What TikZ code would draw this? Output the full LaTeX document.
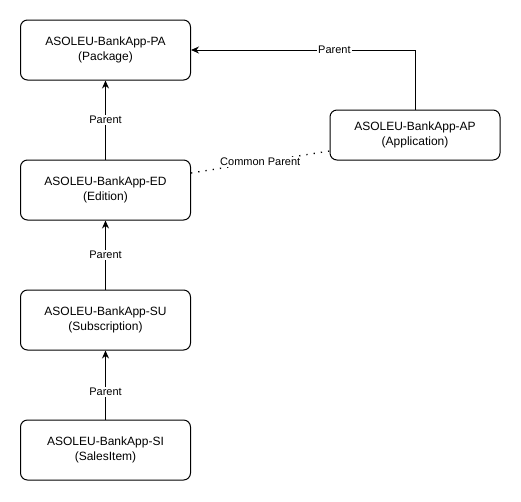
\documentclass[tikz,border=0pt]{standalone}
\usepackage{fontspec}
\setmainfont{Liberation Sans}
\usetikzlibrary{arrows.meta}

\begin{document}
\begin{tikzpicture}[x=1pt, y=-1pt,
    box/.style={draw, line width=1pt, rounded corners=7pt, minimum width=170pt, minimum height=60pt, align=center, font=\fontsize{12}{14.5}\selectfont, inner sep=0pt},
    arr/.style={-{Stealth[length=8pt,width=7pt]}, line width=1pt},
    lbl/.style={fill=white, inner sep=1pt, font=\fontsize{11}{13}\selectfont}]
            \useasboundingbox (0,0) rectangle (521,501);

            \node[box] (PA) at (105.5,50) {ASOLEU-BankApp-PA\\(Package)};
            \node[box] (ED) at (105.5,190) {ASOLEU-BankApp-ED\\(Edition)};
            \node[box] (SU) at (105.5,320) {ASOLEU-BankApp-SU\\(Subscription)};
            \node[box] (SI) at (105.5,450) {ASOLEU-BankApp-SI\\(SalesItem)};
            \node[box, minimum height=50pt] (AP) at (415,135) {ASOLEU-BankApp-AP\\(Application)};

            \draw[arr] (ED)--(PA) node[midway, lbl] {Parent};
            \draw[arr] (SU)--(ED) node[midway, lbl] {Parent};
            \draw[arr] (SI)--(SU) node[pos=0.4, lbl] {Parent};
            \draw[arr] (AP.north) |- node[pos=0.68, lbl] {Parent} (PA.east);
            \draw[dotted, line width=1.3pt, dash pattern=on 1.3pt off 6pt] ([yshift=17pt]ED.east)--([yshift=-16pt]AP.west) node[midway, lbl] {Common Parent};
        \end{tikzpicture}
\end{document}
